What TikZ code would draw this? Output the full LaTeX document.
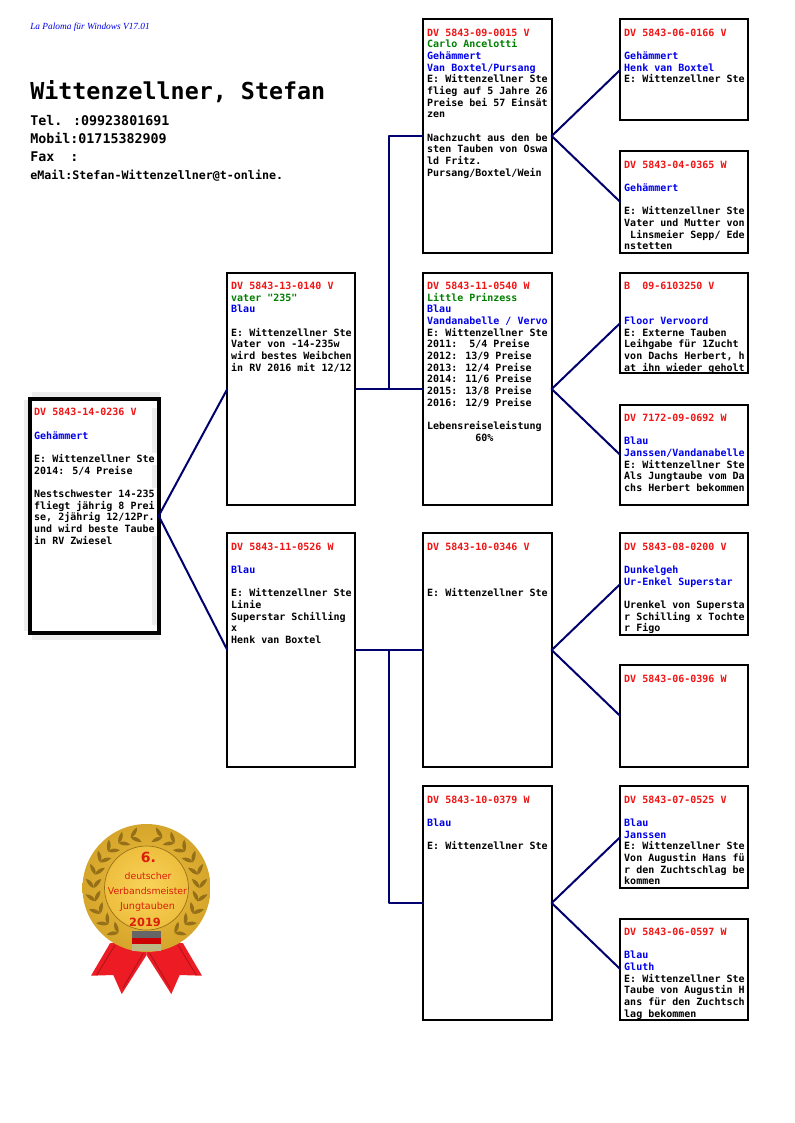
\documentclass[tikz,border=0pt]{standalone}
\usepackage{fontspec}
\setmainfont{DejaVu Sans Mono}[Ligatures=TeXOff]
\newfontfamily\medalfont{DejaVu Sans}
\newfontfamily\signfont{Liberation Serif}
\definecolor{pred}{RGB}{240,20,20}
\definecolor{pgreen}{RGB}{0,128,0}
\definecolor{pblue}{RGB}{0,0,235}
\definecolor{pnavy}{RGB}{0,0,110}
\definecolor{leaf}{RGB}{150,112,25}
\definecolor{medred}{RGB}{218,30,10}
\definecolor{goldA}{RGB}{248,212,90}
\definecolor{goldB}{RGB}{238,190,62}
\definecolor{goldC}{RGB}{214,166,44}
\definecolor{ribbon}{RGB}{237,28,36}
\definecolor{ribbondark}{RGB}{170,20,25}
\tikzset{
  cell/.style={draw=black,line width=1.5pt,fill=white,outer sep=0pt,inner sep=0pt,anchor=north west},
  rootcell/.style={cell,line width=3pt,fill=none},
  celltext/.style={anchor=north west,inner sep=0pt,outer sep=0pt,align=left,text=black,font=\fontsize{7.5}{8.75}\selectfont\bfseries},
  link/.style={draw=pnavy,line width=1.5pt,line join=round},
  medaltext/.style={inner sep=0pt,text=medred,font=\medalfont\bfseries},
  shadowbar/.style={fill=black!7,draw=none}
}
\newcommand{\rd}[1]{\textcolor{pred}{#1}}
\newcommand{\gr}[1]{\textcolor{pgreen}{#1}}
\newcommand{\bl}[1]{\textcolor{pblue}{#1}}
\newcommand{\nl}{\mbox{}\\}
% name, x, y, w, h, style, text
\newcommand{\pedcell}[7]{%
  \node[#6,minimum width=#4*0.75pt,minimum height=#5*0.75pt] (#1) at (#2,#3) {};
  \node[celltext] (#1txt) at (#2+3.9,#3+9.5) {#7};
}
\newcommand{\leafat}[2]{%
  \fill[leaf,shift={(#1:#2)},rotate=#1+50] (0,0) .. controls (3,3.2) and (8,3) .. (12,0) .. controls (8,-2) and (3,-2) .. (0,0);
  \fill[leaf,shift={(#1:#2)},rotate=#1+130] (0,0) .. controls (3,2) and (8,2) .. (12,0) .. controls (8,-3) and (3,-3.2) .. (0,0);
}
\begin{document}
\begin{tikzpicture}[x=0.75pt,y=-0.75pt]
\useasboundingbox (0,0) rectangle (794,1123);
\fill[white] (0,0) rectangle (794,1123);

% header
\node[anchor=base west,inner sep=0pt,text=pblue,font=\signfont\itshape\fontsize{7}{8}\selectfont] (sign) at (30,29.5) {La Paloma für Windows V17.01};
\node[anchor=base west,inner sep=0pt,font=\fontsize{17.5}{20}\selectfont\bfseries] (owner) at (30,100) {Wittenzellner, Stefan};
\node[anchor=base west,inner sep=0pt,font=\fontsize{10}{12}\selectfont\bfseries] (tel) at (30,126) {Tel. :09923801691};
\node[anchor=base west,inner sep=0pt,font=\fontsize{10}{12}\selectfont\bfseries] (mobil) at (30,144) {Mobil:01715382909};
\node[anchor=base west,inner sep=0pt,font=\fontsize{10}{12}\selectfont\bfseries] (fax) at (30,162) {Fax\ \ :};
\node[anchor=base west,inner sep=0pt,font=\fontsize{8.75}{12}\selectfont\bfseries] (mail) at (30,180) {eMail:Stefan-Wittenzellner@t-online.};

% root box grey edges
\fill[shadowbar] (24,400) rectangle (28.5,631);
\fill[shadowbar] (32,392) rectangle (160,396.5);
\fill[shadowbar] (32,635) rectangle (160,640);
\fill[shadowbar] (152,408) rectangle (156.8,453);
\fill[shadowbar] (152,465) rectangle (156.8,488);
\fill[shadowbar] (152,536) rectangle (156.8,625);

\pedcell{root}{30.3}{399}{128.4}{233.7}{rootcell}{\rd{DV 5843-14-0236 V}\\\nl
\bl{Gehämmert}\\\nl
E: Wittenzellner Ste\\
2014: 5/4 Preise\\\nl
Nestschwester 14-235\\
fliegt jährig 8 Prei\\
se, 2jährig 12/12Pr.\\
und wird beste Taube\\
in RV Zwiesel}

\pedcell{a}{227.3}{272.7}{127.4}{232.6}{cell}{\rd{DV 5843-13-0140 V}\\
\gr{vater "235"}\\
\bl{Blau}\\\nl
E: Wittenzellner Ste\\
Vater von -14-235w\\
wird bestes Weibchen\\
in RV 2016 mit 12/12}

\pedcell{b}{227.3}{533.3}{127.4}{233.5}{cell}{\rd{DV 5843-11-0526 W}\\\nl
\bl{Blau}\\\nl
E: Wittenzellner Ste\\
Linie\\
Superstar Schilling\\
x\\
Henk van Boxtel}

\pedcell{c}{423.3}{19.3}{128.4}{233.4}{cell}{\rd{DV 5843-09-0015 V}\\
\gr{Carlo Ancelotti}\\
\bl{Gehämmert}\\
\bl{Van Boxtel/Pursang}\\
E: Wittenzellner Ste\\
flieg auf 5 Jahre 26\\
Preise bei 57 Einsät\\
zen\\\nl
Nachzucht aus den be\\
sten Tauben von Oswa\\
ld Fritz.\\
Pursang/Boxtel/Wein}

\pedcell{d}{423.3}{272.7}{128.4}{232.6}{cell}{\rd{DV 5843-11-0540 W}\\
\gr{Little Prinzess}\\
\bl{Blau}\\
\bl{Vandanabelle / Vervo}\\
E: Wittenzellner Ste\\
2011:\ \ 5/4 Preise\\
2012: 13/9 Preise\\
2013: 12/4 Preise\\
2014: 11/6 Preise\\
2015: 13/8 Preise\\
2016: 12/9 Preise\\\nl
Lebensreiseleistung\\
\phantom{xxxxxxxx}60\%}

\pedcell{e}{423.3}{533.3}{128.4}{233.5}{cell}{\rd{DV 5843-10-0346 V}\\\nl\nl\nl
E: Wittenzellner Ste}

\pedcell{f}{423.3}{786.3}{128.4}{233.4}{cell}{\rd{DV 5843-10-0379 W}\\\nl
\bl{Blau}\\\nl
E: Wittenzellner Ste}

\pedcell{c1}{620.3}{19.3}{127.4}{101}{cell}{\rd{DV 5843-06-0166 V}\\\nl
\bl{Gehämmert}\\
\bl{Henk van Boxtel}\\
E: Wittenzellner Ste}

\pedcell{c2}{620.3}{151.3}{127.4}{101.4}{cell}{\rd{DV 5843-04-0365 W}\\\nl
\bl{Gehämmert}\\\nl
E: Wittenzellner Ste\\
Vater und Mutter von\\
\phantom{x}Linsmeier Sepp/ Ede\\
nstetten}

\pedcell{d1}{620.3}{272.7}{127.4}{100.6}{cell}{\rd{B\ \ 09-6103250 V}\\\nl\nl
\bl{Floor Vervoord}\\
E: Externe Tauben\\
Leihgabe für 1Zucht\\
von Dachs Herbert, h\\
at ihn wieder geholt}

\pedcell{d2}{620.3}{404.7}{127.4}{100.6}{cell}{\rd{DV 7172-09-0692 W}\\\nl
\bl{Blau}\\
\bl{Janssen/Vandanabelle}\\
E: Wittenzellner Ste\\
Als Jungtaube vom Da\\
chs Herbert bekommen}

\pedcell{e1}{620.3}{533.3}{127.4}{101.4}{cell}{\rd{DV 5843-08-0200 V}\\\nl
\bl{Dunkelgeh}\\
\bl{Ur-Enkel Superstar}\\\nl
Urenkel von Supersta\\
r Schilling x Tochte\\
r Figo}

\pedcell{e2}{620.3}{665.3}{127.4}{101.5}{cell}{\rd{DV 5843-06-0396 W}}

\pedcell{f1}{620.3}{786.3}{127.4}{101.4}{cell}{\rd{DV 5843-07-0525 V}\\\nl
\bl{Blau}\\
\bl{Janssen}\\
E: Wittenzellner Ste\\
Von Augustin Hans fü\\
r den Zuchtschlag be\\
kommen}

\pedcell{f2}{620.3}{918.7}{127.4}{101}{cell}{\rd{DV 5843-06-0597 W}\\\nl
\bl{Blau}\\
\bl{Gluth}\\
E: Wittenzellner Ste\\
Taube von Augustin H\\
ans für den Zuchtsch\\
lag bekommen}

% connectors
\draw[link] (a.west) -- (root.east) -- (b.west);
\draw[link] (a.east) -- (d.west);
\draw[link] (a.east) -- ++(34.3,0) |- (c.west);
\draw[link] (b.east) -- (e.west);
\draw[link] (b.east) -- ++(34.3,0) |- (f.west);
\draw[link] (c1.west) -- (c.east) -- (c2.west);
\draw[link] (d1.west) -- (d.east) -- (d2.west);
\draw[link] (e1.west) -- (e.east) -- (e2.west);
\draw[link] (f1.west) -- (f.east) -- (f2.west);

% medal
\begin{scope}[shift={(146.5,888)},y=0.75pt]
  \foreach \s in {1,-1}{
    \begin{scope}[xscale=\s]
      \fill[ribbon] (-36.5,-55.3) -- (-55.5,-87.7) -- (-33.2,-87) -- (-24.8,-106) -- (0,-67) -- (0,-50) -- cycle;
      \draw[ribbondark,line width=0.6pt] (-31.5,-57) -- (-49.8,-87);
      \draw[ribbondark,line width=0.6pt] (-3.2,-65.3) -- (-23.8,-100.3);
    \end{scope}
  }
  \shade[inner color=goldB,outer color=goldC] (0,0) circle (64);
  \foreach \s in {1,-1}{
    \begin{scope}[xscale=\s]
      \foreach \a in {-58,-43.5,...,75}{\leafat{\a}{53}}
    \end{scope}
  }
  \shade[inner color=goldA,outer color=goldB,draw=leaf,line width=0.5pt] (0,0) circle (42);
  \fill[black!60] (-14.2,-42.7) rectangle (14.2,-49.5);
  \fill[red!80!black] (-14.2,-49.5) rectangle (14.2,-56);
  \fill[yellow!50!black!60] (-14.2,-56) rectangle (14.2,-62.7);
  \node[medaltext,font=\medalfont\bfseries\fontsize{10.5}{12}\selectfont] (m1) at (1.8,30.7) {6.};
  \node[medaltext,font=\medalfont\fontsize{7}{8}\selectfont] (m2) at (1.5,12) {deutscher};
  \node[medaltext,font=\medalfont\fontsize{7}{8}\selectfont] (m3) at (1,-2.7) {Verbandsmeister};
  \node[medaltext,font=\medalfont\fontsize{7.2}{8}\selectfont] (m4) at (1,-18.7) {Jungtauben};
  \node[medaltext,font=\medalfont\bfseries\fontsize{8.5}{10}\selectfont] (m5) at (-1.5,-34.7) {2019};
\end{scope}
\end{tikzpicture}
\end{document}
